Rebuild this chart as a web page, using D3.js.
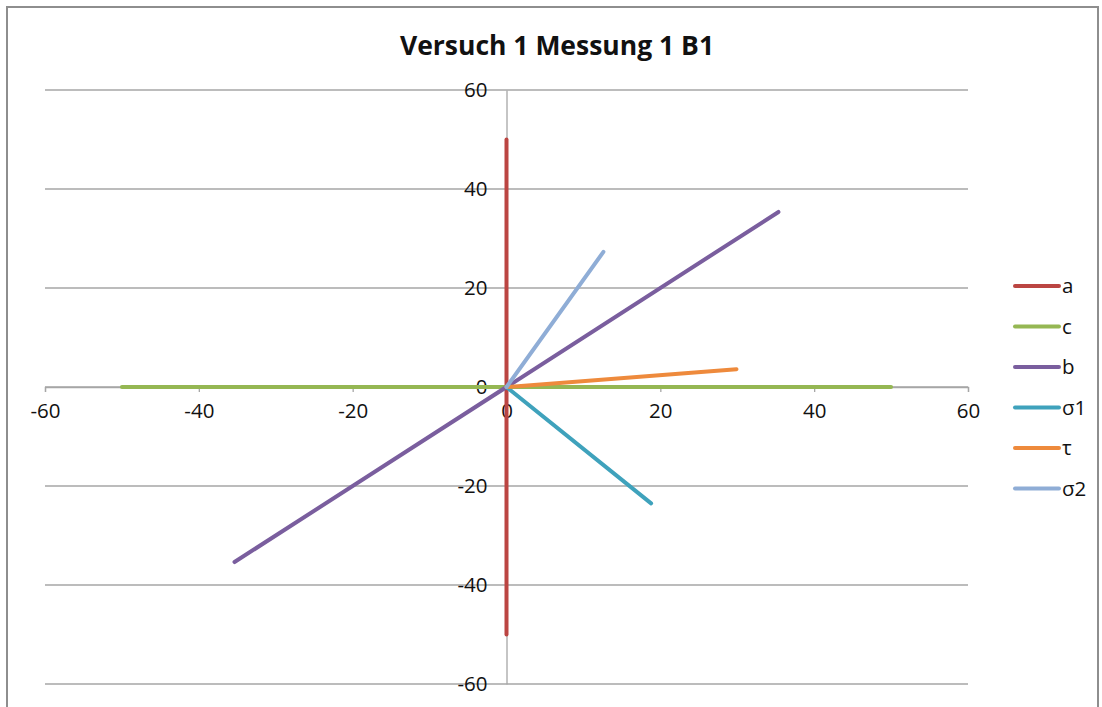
<!DOCTYPE html>
<html>
<head>
<meta charset="utf-8">
<script src="https://cdn.jsdelivr.net/npm/d3@7/dist/d3.min.js"></script>
<style>
  html, body { margin: 0; padding: 0; background: #fff; }
  svg { display: block; }
  text { font-family: "Open Sans", "Liberation Sans", sans-serif; fill: #111; }
</style>
</head>
<body>
<svg id="chart" width="1102" height="707"></svg>
<script>
// Chart title and axis ticks
const chartTitle = "Versuch 1 Messung 1 B1";
const xTicks = [-60, -40, -20, 0, 20, 40, 60];
const yTicks = [-60, -40, -20, 0, 20, 40, 60];

// Series, each a segment given by its x and y values
const seriesNames = ["a", "c", "b", "σ1", "τ", "σ2"];
const seriesColors = ["#BB4542", "#95B753", "#7A5E9E", "#3FA2BC", "#EE8A3C", "#8FADD6"];
const aX = [0, 0],          aY = [-50, 50];
const cX = [-50, 50],       cY = [0, 0];
const bX = [-35.36, 35.36], bY = [-35.36, 35.36];
const s1X = [0, 18.8],      s1Y = [0, -23.5];
const tauX = [0, 29.9],     tauY = [0, 3.6];
const s2X = [0, 12.6],      s2Y = [0, 27.3];
const seriesX = [aX, cX, bX, s1X, tauX, s2X];
const seriesY = [aY, cY, bY, s1Y, tauY, s2Y];

const svg = d3.select("#chart");

// outer chart frame
svg.append("rect")
  .attr("x", 7).attr("y", 7)
  .attr("width", 1091).attr("height", 720)
  .attr("fill", "#fff")
  .attr("stroke", "#8e8e8e").attr("stroke-width", 2);

const x = d3.scaleLinear().domain([-60, 60]).range([45, 968]);
const y = d3.scaleLinear().domain([-60, 60]).range([684, 90]);

// horizontal gridlines
svg.append("g")
  .selectAll("line")
  .data(yTicks)
  .join("line")
  .attr("x1", x(-60)).attr("x2", x(60))
  .attr("y1", d => y(d)).attr("y2", d => y(d))
  .attr("stroke", "#a6a6a6").attr("stroke-width", 1.3);

const fmt = d => d3.format("d")(d).replace("−", "-");

// x axis through y = 0
const xAxis = svg.append("g")
  .attr("transform", `translate(0,${y(0)})`)
  .call(d3.axisBottom(x).tickValues(xTicks).tickSize(5).tickPadding(11).tickFormat(fmt));
xAxis.select(".domain").attr("stroke", "#a6a6a6").attr("stroke-width", 1.3);
xAxis.selectAll(".tick line").attr("stroke", "#a6a6a6").attr("stroke-width", 1.3);
xAxis.selectAll(".tick text")
  .attr("font-size", 20.5)
  .attr("font-family", "'Open Sans', sans-serif")
  .attr("fill", "#111");

// y axis through x = 0
const yAxis = svg.append("g")
  .attr("transform", `translate(${x(0)},0)`)
  .call(d3.axisLeft(y).tickValues(yTicks).tickSize(0).tickPadding(19).tickFormat(fmt));
yAxis.select(".domain").attr("stroke", "#a6a6a6").attr("stroke-width", 1.3);
yAxis.selectAll(".tick text")
  .attr("font-size", 20.5)
  .attr("font-family", "'Open Sans', sans-serif")
  .attr("fill", "#111");

// series segments
const line = d3.line().x(d => x(d[0])).y(d => y(d[1]));
svg.append("g")
  .selectAll("path")
  .data(seriesNames.map((n, i) => ({ name: n, color: seriesColors[i], pts: seriesX[i].map((v, j) => [v, seriesY[i][j]]) })))
  .join("path")
  .attr("d", d => line(d.pts))
  .attr("fill", "none")
  .attr("stroke", d => d.color)
  .attr("stroke-width", 4)
  .attr("stroke-linecap", "round");

// title
svg.append("text")
  .attr("x", 557).attr("y", 55)
  .attr("text-anchor", "middle")
  .attr("font-size", 26.5)
  .attr("font-weight", "bold")
  .text(chartTitle);

// legend
const legend = svg.append("g");
const legendRow = legend.selectAll("g")
  .data(seriesNames)
  .join("g")
  .attr("transform", (d, i) => `translate(1015,${286 + i * 40.5})`);
legendRow.append("line")
  .attr("x1", 0).attr("x2", 44)
  .attr("stroke", (d, i) => seriesColors[i])
  .attr("stroke-width", 4)
  .attr("stroke-linecap", "round");
legendRow.append("text")
  .attr("x", 47).attr("y", 0)
  .attr("dy", "0.35em")
  .attr("font-size", 20.5)
  .text(d => d);
</script>
</body>
</html>
